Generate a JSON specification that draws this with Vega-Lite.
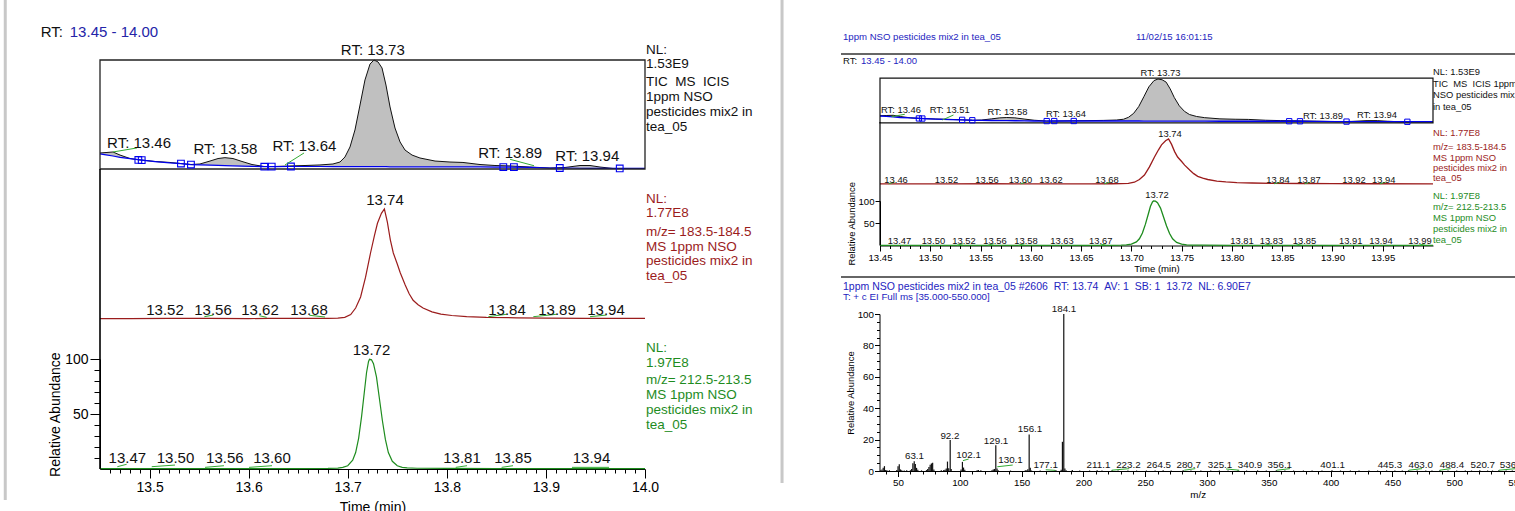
{
"$schema":"https://vega.github.io/schema/vega-lite/v6.json",
"width":1515,"height":511,"autosize":{"type":"none"},"padding":0,"background":"#ffffff",
"config":{"view":{"stroke":null},"font":"Liberation Sans","axis":{"grid":false,"labelFont":"Liberation Sans","titleFont":"Liberation Sans","labelColor":"#000000","titleColor":"#000000","tickColor":"#000000","domainColor":"#000000","titleFontWeight":"normal","labelFlush":false,"labelOverlap":false,"tickWidth":1,"domainWidth":1}},
"data":{"values":[{}]},
"datasets":{
"tic":[{"t":13.45,"v":14.7,"b":13.8},{"t":13.4561,"v":15.1,"b":13.0},{"t":13.4631,"v":15.6,"b":11.9},{"t":13.4702,"v":12.8,"b":10.6},{"t":13.4803,"v":9.6,"b":9.5},{"t":13.4904,"v":8.3,"b":8.3},{"t":13.5055,"v":6.9,"b":6.8},{"t":13.5206,"v":6.0,"b":5.6},{"t":13.5317,"v":5.0,"b":5.0},{"t":13.5418,"v":4.1,"b":4.1},{"t":13.5509,"v":4.6,"b":3.8},{"t":13.561,"v":7.3,"b":3.5},{"t":13.5691,"v":9.6,"b":3.3},{"t":13.5761,"v":10.4,"b":3.1},{"t":13.5842,"v":9.6,"b":2.9},{"t":13.5933,"v":6.9,"b":2.6},{"t":13.6034,"v":4.1,"b":2.4},{"t":13.6155,"v":2.3,"b":2.1},{"t":13.6266,"v":2.3,"b":2.2},{"t":13.6417,"v":2.8,"b":2.3},{"t":13.6569,"v":3.2,"b":2.3},{"t":13.672,"v":3.7,"b":2.3},{"t":13.6851,"v":4.6,"b":2.2},{"t":13.6922,"v":6.4,"b":2.2},{"t":13.6972,"v":11,"b":2.2},{"t":13.7023,"v":20.2,"b":2.2},{"t":13.7073,"v":35.8,"b":2.2},{"t":13.7124,"v":58.7,"b":2.1},{"t":13.7174,"v":81.7,"b":2.1},{"t":13.7225,"v":96.3,"b":2.1},{"t":13.7265,"v":100,"b":2.1},{"t":13.7306,"v":98.2,"b":2.1},{"t":13.7346,"v":92.7,"b":2.1},{"t":13.7386,"v":77,"b":2.1},{"t":13.7427,"v":56.9,"b":2.0},{"t":13.7477,"v":37.6,"b":2.0},{"t":13.7528,"v":24.8,"b":2.0},{"t":13.7578,"v":17.4,"b":2.0},{"t":13.7649,"v":12.8,"b":2.0},{"t":13.7729,"v":10.1,"b":2.0},{"t":13.7881,"v":7.3,"b":1.9},{"t":13.8032,"v":6.4,"b":1.9},{"t":13.8163,"v":6.0,"b":1.9},{"t":13.8335,"v":4.1,"b":1.9},{"t":13.8486,"v":3.2,"b":1.8},{"t":13.8638,"v":2.8,"b":1.7},{"t":13.8839,"v":1.8,"b":1.4},{"t":13.9041,"v":0.9,"b":0.9},{"t":13.9193,"v":1.4,"b":0.9},{"t":13.9344,"v":3.2,"b":0.7},{"t":13.9445,"v":3.2,"b":0.6},{"t":13.9546,"v":1.8,"b":0.5},{"t":13.9677,"v":0.5,"b":0.5},{"t":13.9849,"v":0.5,"b":0.5},{"t":14.0,"v":0.5,"b":0.5}],
"red":[{"t":13.45,"v":0.4},{"t":13.48,"v":0.4},{"t":13.52,"v":0.5},{"t":13.56,"v":0.6},{"t":13.6,"v":0.4},{"t":13.62,"v":0.5},{"t":13.66,"v":0.5},{"t":13.68,"v":0.6},{"t":13.69,"v":0.8},{"t":13.697,"v":1.5},{"t":13.703,"v":4},{"t":13.708,"v":10},{"t":13.713,"v":20},{"t":13.718,"v":38},{"t":13.723,"v":60},{"t":13.727,"v":76},{"t":13.73,"v":87},{"t":13.734,"v":96},{"t":13.737,"v":100},{"t":13.74,"v":88},{"t":13.743,"v":72},{"t":13.746,"v":60},{"t":13.75,"v":50},{"t":13.753,"v":42},{"t":13.758,"v":31},{"t":13.762,"v":23},{"t":13.766,"v":17},{"t":13.771,"v":13},{"t":13.776,"v":10},{"t":13.785,"v":6.5},{"t":13.794,"v":4.5},{"t":13.805,"v":3.2},{"t":13.82,"v":2.2},{"t":13.84,"v":1.5},{"t":13.87,"v":1.1},{"t":13.9,"v":0.8},{"t":13.94,"v":0.6},{"t":14.0,"v":0.5}],
"green":[{"t":13.45,"v":0.3},{"t":13.5,"v":0.4},{"t":13.55,"v":0.3},{"t":13.6,"v":0.4},{"t":13.65,"v":0.3},{"t":13.68,"v":0.5},{"t":13.69,"v":0.8},{"t":13.695,"v":1.5},{"t":13.7,"v":3},{"t":13.705,"v":8},{"t":13.708,"v":15},{"t":13.711,"v":28},{"t":13.714,"v":48},{"t":13.717,"v":72},{"t":13.719,"v":88},{"t":13.721,"v":98},{"t":13.722,"v":100},{"t":13.724,"v":99.5},{"t":13.726,"v":96},{"t":13.729,"v":84},{"t":13.732,"v":64},{"t":13.735,"v":44},{"t":13.738,"v":27},{"t":13.741,"v":15},{"t":13.745,"v":7},{"t":13.75,"v":3},{"t":13.755,"v":1.5},{"t":13.76,"v":1},{"t":13.77,"v":0.7},{"t":13.8,"v":0.5},{"t":13.85,"v":0.4},{"t":13.9,"v":0.4},{"t":13.95,"v":0.3},{"t":14.0,"v":0.3}],
"sq":[{"t":13.4887,"v":8.3},{"t":13.4921,"v":8.1},{"t":13.5317,"v":5.0},{"t":13.5418,"v":4.1},{"t":13.6158,"v":2.1},{"t":13.6233,"v":2.2},{"t":13.6427,"v":2.3},{"t":13.857,"v":1.8},{"t":13.8677,"v":1.7},{"t":13.914,"v":0.9},{"t":13.9745,"v":0.5}],
"labTL":[{"t":13.4894,"v":18.9,"label":"RT: 13.46"},{"t":13.5766,"v":13.4,"label":"RT: 13.58"},{"t":13.6563,"v":16.1,"label":"RT: 13.64"},{"t":13.7253,"v":104.2,"label":"RT: 13.73"},{"t":13.864,"v":9.7,"label":"RT: 13.89"},{"t":13.9418,"v":7.0,"label":"RT: 13.94"}],
"labRL":[{"t":13.5156,"v":3.6,"label":"13.52"},{"t":13.564,"v":3.6,"label":"13.56"},{"t":13.6115,"v":3.6,"label":"13.62"},{"t":13.6609,"v":3.6,"label":"13.68"},{"t":13.8607,"v":3.6,"label":"13.84"},{"t":13.9112,"v":3.6,"label":"13.89"},{"t":13.9606,"v":3.6,"label":"13.94"},{"t":13.7376,"v":103.3,"label":"13.74"}],
"labGL":[{"t":13.4776,"v":5.2,"label":"13.47"},{"t":13.5262,"v":5.2,"label":"13.50"},{"t":13.576,"v":5.2,"label":"13.56"},{"t":13.6236,"v":5.2,"label":"13.60"},{"t":13.8153,"v":5.2,"label":"13.81"},{"t":13.8668,"v":5.2,"label":"13.85"},{"t":13.946,"v":5.2,"label":"13.94"},{"t":13.724,"v":103.6,"label":"13.72"}],
"ldTL":[{"t":13.4631,"v":15.6,"t2":13.4873,"v2":19.3},{"t":13.6367,"v":3.7,"t2":13.6559,"v2":14.7},{"t":13.8638,"v":8.9,"t2":13.888,"v2":3.0}],
"ldRL":[{"t":13.5553,"v":2.1,"t2":13.5644,"v2":3.6},{"t":13.6108,"v":3.0,"t2":13.6182,"v2":1.5},{"t":13.6612,"v":3.4,"t2":13.6771,"v2":1.8},{"t":13.8419,"v":2.1,"t2":13.8604,"v2":4.3},{"t":13.8873,"v":2.1,"t2":13.9109,"v2":4.3},{"t":13.9445,"v":2.1,"t2":13.9613,"v2":3.6}],
"ldGL":[{"t":13.4675,"v":2.1,"t2":13.4769,"v2":4.3},{"t":13.5022,"v":2.1,"t2":13.5257,"v2":3.6},{"t":13.556,"v":1.5,"t2":13.5751,"v2":3},{"t":13.6004,"v":1.5,"t2":13.6236,"v2":3},{"t":13.809,"v":1.5,"t2":13.8204,"v2":3},{"t":13.8553,"v":1.5,"t2":13.8668,"v2":3},{"t":13.9263,"v":1.5,"t2":13.9637,"v2":1.5}],
"labTR":[{"t":13.4708,"v":20,"label":"RT: 13.46"},{"t":13.5193,"v":20,"label":"RT: 13.51"},{"t":13.5767,"v":16,"label":"RT: 13.58"},{"t":13.635,"v":12,"label":"RT: 13.64"},{"t":13.729,"v":106.7,"label":"RT: 13.73"},{"t":13.8906,"v":8,"label":"RT: 13.89"},{"t":13.9443,"v":9.5,"label":"RT: 13.94"}],
"ldTR":[{"t":13.4615,"v":12.3,"t2":13.4747,"v2":18},{"t":13.5121,"v":4.7,"t2":13.5231,"v2":16.3}],
"labRR":[{"t":13.466,"v":2.9,"label":"13.46"},{"t":13.5162,"v":2.9,"label":"13.52"},{"t":13.5564,"v":2.9,"label":"13.56"},{"t":13.5898,"v":2.9,"label":"13.60"},{"t":13.6201,"v":2.9,"label":"13.62"},{"t":13.6758,"v":2.9,"label":"13.68"},{"t":13.8458,"v":2.9,"label":"13.84"},{"t":13.8766,"v":2.9,"label":"13.87"},{"t":13.9214,"v":2.9,"label":"13.92"},{"t":13.951,"v":2.9,"label":"13.94"},{"t":13.7384,"v":103.6,"label":"13.74"}],
"ldRR":[{"t":13.4586,"v":0.5,"t2":13.4646,"v2":4},{"t":13.5899,"v":0.5,"t2":13.5959,"v2":4},{"t":13.673,"v":0.5,"t2":13.679,"v2":4},{"t":13.842,"v":0.5,"t2":13.848,"v2":4},{"t":13.8722,"v":0.5,"t2":13.8782,"v2":4},{"t":13.947,"v":0.5,"t2":13.953,"v2":4}],
"labGR":[{"t":13.4694,"v":3.1,"label":"13.47"},{"t":13.5031,"v":3.1,"label":"13.50"},{"t":13.5335,"v":3.1,"label":"13.52"},{"t":13.5644,"v":3.1,"label":"13.56"},{"t":13.5952,"v":3.1,"label":"13.58"},{"t":13.631,"v":3.1,"label":"13.63"},{"t":13.6695,"v":3.1,"label":"13.67"},{"t":13.81,"v":3.1,"label":"13.81"},{"t":13.8394,"v":3.1,"label":"13.83"},{"t":13.8722,"v":3.1,"label":"13.85"},{"t":13.9181,"v":3.1,"label":"13.91"},{"t":13.9483,"v":3.1,"label":"13.94"},{"t":13.987,"v":3.1,"label":"13.99"},{"t":13.7255,"v":105.8,"label":"13.72"}],
"ldGR":[{"t":13.5264,"v":0.5,"t2":13.5324,"v2":4},{"t":13.5571,"v":0.5,"t2":13.5631,"v2":4},{"t":13.5877,"v":0.5,"t2":13.5937,"v2":4},{"t":13.6687,"v":0.5,"t2":13.6747,"v2":4},{"t":13.8328,"v":0.5,"t2":13.8388,"v2":4},{"t":13.8634,"v":0.5,"t2":13.8694,"v2":4},{"t":13.986,"v":0.5,"t2":13.992,"v2":4}],
"spec":[{"m":36,"v":0.5},{"m":37,"v":0.9},{"m":38,"v":2.0},{"m":39,"v":3.1},{"m":40,"v":0.7},{"m":41,"v":0.5},{"m":43,"v":0.4},{"m":49,"v":0.6},{"m":50,"v":3.0},{"m":51,"v":4.3},{"m":52,"v":1.0},{"m":53,"v":0.5},{"m":55,"v":0.3},{"m":57,"v":0.4},{"m":60,"v":0.5},{"m":61,"v":1.2},{"m":62,"v":5.0},{"m":63.1,"v":6.2},{"m":64,"v":4.5},{"m":65,"v":2.0},{"m":66,"v":0.8},{"m":69,"v":0.4},{"m":73,"v":0.6},{"m":74,"v":1.2},{"m":75,"v":2.6},{"m":76,"v":4.0},{"m":77,"v":4.8},{"m":78,"v":5.2},{"m":79,"v":1.0},{"m":85,"v":0.4},{"m":87,"v":0.6},{"m":88,"v":0.8},{"m":89,"v":1.6},{"m":90,"v":6.0},{"m":91,"v":1.8},{"m":92.2,"v":19.8},{"m":93,"v":1.3},{"m":101,"v":1.0},{"m":102.1,"v":5.8},{"m":103,"v":2.2},{"m":104,"v":0.8},{"m":114,"v":0.4},{"m":115,"v":0.6},{"m":117,"v":0.5},{"m":126,"v":0.5},{"m":127,"v":0.9},{"m":128,"v":1.3},{"m":129.1,"v":16.4},{"m":130.1,"v":1.6},{"m":131,"v":0.4},{"m":141,"v":0.3},{"m":153,"v":0.5},{"m":154,"v":0.4},{"m":155,"v":1.1},{"m":156.1,"v":23.2},{"m":157,"v":2.0},{"m":158,"v":0.3},{"m":165,"v":0.3},{"m":177.1,"v":0.5},{"m":178,"v":0.3},{"m":182,"v":0.8},{"m":183,"v":18.6},{"m":184.1,"v":100},{"m":185,"v":1.6},{"m":186,"v":0.5},{"m":191,"v":0.6},{"m":197,"v":0.3},{"m":205,"v":0.3},{"m":211.1,"v":0.5},{"m":215,"v":0.3},{"m":223.2,"v":0.4},{"m":228,"v":0.3},{"m":236,"v":0.3},{"m":243,"v":0.3},{"m":251,"v":0.3},{"m":258,"v":0.3},{"m":264.5,"v":0.4},{"m":271,"v":0.3},{"m":280.7,"v":0.4},{"m":287,"v":0.3},{"m":295,"v":0.3},{"m":303,"v":0.3},{"m":310,"v":0.3},{"m":317,"v":0.3},{"m":325.1,"v":0.4},{"m":332,"v":0.3},{"m":340.9,"v":0.4},{"m":348,"v":0.3},{"m":356.1,"v":0.4},{"m":363,"v":0.3},{"m":370,"v":0.3},{"m":378,"v":0.3},{"m":385,"v":0.3},{"m":393,"v":0.3},{"m":401.1,"v":0.4},{"m":408,"v":0.3},{"m":416,"v":0.3},{"m":423,"v":0.3},{"m":431,"v":0.3},{"m":438,"v":0.3},{"m":445.3,"v":0.4},{"m":452,"v":0.3},{"m":458,"v":0.3},{"m":463,"v":0.4},{"m":470,"v":0.3},{"m":477,"v":0.3},{"m":482,"v":0.3},{"m":488.4,"v":0.4},{"m":495,"v":0.3},{"m":502,"v":0.3},{"m":509,"v":0.3},{"m":514,"v":0.3},{"m":520.7,"v":0.4},{"m":527,"v":0.3},{"m":531,"v":0.3},{"m":536.1,"v":0.4},{"m":542,"v":0.3},{"m":547,"v":0.3}],
"labS":[{"m":184.3,"v":101.4,"label":"184.1"},{"m":156.8,"v":25,"label":"156.1"},{"m":129.3,"v":17.5,"label":"129.1"},{"m":92.0,"v":20.7,"label":"92.2"},{"m":63.3,"v":7.5,"label":"63.1"},{"m":107.1,"v":8.4,"label":"102.1"},{"m":141.0,"v":4.8,"label":"130.1"},{"m":169.5,"v":2.0,"label":"177.1"},{"m":212.2,"v":2.0,"label":"211.1"},{"m":236.4,"v":2.0,"label":"223.2"},{"m":261.0,"v":2.0,"label":"264.5"},{"m":285.2,"v":2.0,"label":"280.7"},{"m":310.5,"v":2.0,"label":"325.1"},{"m":334.8,"v":2.0,"label":"340.9"},{"m":358.9,"v":2.0,"label":"356.1"},{"m":401.6,"v":2.0,"label":"401.1"},{"m":448.0,"v":2.0,"label":"445.3"},{"m":472.9,"v":2.0,"label":"463.0"},{"m":498.2,"v":2.0,"label":"488.4"},{"m":523.1,"v":2.0,"label":"520.7"},{"m":546.8,"v":2.0,"label":"536.1"}],
"ldS":[{"m":102.5,"v":6.6,"m2":107.1,"v2":7.6},{"m":130.3,"v":2.7,"m2":142.8,"v2":3.8},{"m":169.5,"v":0.8,"m2":177.3,"v2":0.4},{"m":222.9,"v":0.5,"m2":237.1,"v2":1.5},{"m":281.6,"v":0.5,"m2":290.5,"v2":1.5},{"m":315.4,"v":1.3,"m2":326.1,"v2":0.5},{"m":356.4,"v":0.5,"m2":367.1,"v2":1.5},{"m":463.3,"v":0.5,"m2":474,"v2":1.5},{"m":488.2,"v":0.5,"m2":497.1,"v2":1.5},{"m":536.2,"v":0.5,"m2":550,"v2":1.5}]
},
"layer":[
{"mark":{"type":"rule","color":"#c8c8c8","strokeWidth":3},"encoding":{"x":{"datum":13.3544,"scale":{"domain":[13.45,14],"range":[100,645],"nice":false,"zero":false},"axis":null},"y":{"datum":427.5,"scale":{"domain":[0,100],"range":[469,359.3],"nice":false,"zero":false},"axis":null},"y2":{"datum":-28.3}}},
{"mark":{"type":"rule","color":"#c8c8c8","strokeWidth":3},"encoding":{"x":{"datum":14.1383,"scale":{"domain":[13.45,14],"range":[100,645],"nice":false,"zero":false},"axis":null},"y":{"datum":427.5,"scale":{"domain":[0,100],"range":[469,359.3],"nice":false,"zero":false},"axis":null},"y2":{"datum":-12.8}}},

{"data":{"name":"tic"},"mark":{"type":"area","color":"#c0c0c0"},"encoding":{"x":{"field":"t","type":"quantitative","scale":{"domain":[13.45,14],"range":[100,645],"nice":false,"zero":false},"axis":null},"y":{"field":"v","type":"quantitative","scale":{"domain":[0,100],"range":[169,60],"nice":false,"zero":false},"axis":null},"y2":{"field":"b"}}},
{"data":{"name":"tic"},"mark":{"type":"line","color":"#111111","strokeWidth":1},"encoding":{"x":{"field":"t","type":"quantitative","scale":{"domain":[13.45,14],"range":[100,645],"nice":false,"zero":false},"axis":null},"y":{"field":"v","type":"quantitative","scale":{"domain":[0,100],"range":[169,60],"nice":false,"zero":false},"axis":null}}},
{"data":{"name":"tic"},"mark":{"type":"line","color":"#0000ee","strokeWidth":1.2},"encoding":{"x":{"field":"t","type":"quantitative","scale":{"domain":[13.45,14],"range":[100,645],"nice":false,"zero":false},"axis":null},"y":{"field":"b","type":"quantitative","scale":{"domain":[0,100],"range":[169,60],"nice":false,"zero":false},"axis":null}}},
{"mark":{"type":"rect","filled":false,"color":"#222222","strokeWidth":1.3},"encoding":{"x":{"datum":13.45,"scale":{"domain":[13.45,14],"range":[100,645],"nice":false,"zero":false},"axis":null},"x2":{"datum":14.0},"y":{"datum":0,"scale":{"domain":[0,100],"range":[169,60],"nice":false,"zero":false},"axis":null},"y2":{"datum":100}}},
{"data":{"name":"sq"},"mark":{"type":"point","shape":"square","filled":false,"color":"#0000ee","size":45,"strokeWidth":1.1,"opacity":1},"encoding":{"x":{"field":"t","type":"quantitative","scale":{"domain":[13.45,14],"range":[100,645],"nice":false,"zero":false},"axis":null},"y":{"field":"v","type":"quantitative","scale":{"domain":[0,100],"range":[169,60],"nice":false,"zero":false},"axis":null}}},
{"data":{"name":"ldTL"},"mark":{"type":"rule","color":"#33aa33","strokeWidth":1},"encoding":{"x":{"field":"t","type":"quantitative","scale":{"domain":[13.45,14],"range":[100,645],"nice":false,"zero":false},"axis":null},"x2":{"field":"t2"},"y":{"field":"v","type":"quantitative","scale":{"domain":[0,100],"range":[169,60],"nice":false,"zero":false},"axis":null},"y2":{"field":"v2"}}},
{"data":{"name":"labTL"},"mark":{"type":"text","fontSize":15,"baseline":"alphabetic","align":"center","color":"#111111"},"encoding":{"x":{"field":"t","type":"quantitative","scale":{"domain":[13.45,14],"range":[100,645],"nice":false,"zero":false},"axis":null},"y":{"field":"v","type":"quantitative","scale":{"domain":[0,100],"range":[169,60],"nice":false,"zero":false},"axis":null},"text":{"field":"label"}}},

{"data":{"name":"red"},"mark":{"type":"line","color":"#9b1c1c","strokeWidth":1.2},"encoding":{"x":{"field":"t","type":"quantitative","scale":{"domain":[13.45,14],"range":[100,645],"nice":false,"zero":false},"axis":null},"y":{"field":"v","type":"quantitative","scale":{"domain":[0,100],"range":[319,209],"nice":false,"zero":false},"axis":null}}},
{"data":{"name":"ldRL"},"mark":{"type":"rule","color":"#33aa33","strokeWidth":1},"encoding":{"x":{"field":"t","type":"quantitative","scale":{"domain":[13.45,14],"range":[100,645],"nice":false,"zero":false},"axis":null},"x2":{"field":"t2"},"y":{"field":"v","type":"quantitative","scale":{"domain":[0,100],"range":[319,209],"nice":false,"zero":false},"axis":null},"y2":{"field":"v2"}}},
{"data":{"name":"labRL"},"mark":{"type":"text","fontSize":15,"baseline":"alphabetic","align":"center","color":"#111111"},"encoding":{"x":{"field":"t","type":"quantitative","scale":{"domain":[13.45,14],"range":[100,645],"nice":false,"zero":false},"axis":null},"y":{"field":"v","type":"quantitative","scale":{"domain":[0,100],"range":[319,209],"nice":false,"zero":false},"axis":null},"text":{"field":"label"}}},

{"data":{"name":"green"},"mark":{"type":"line","color":"#1e8c1e","strokeWidth":1.2},"encoding":{"x":{"field":"t","type":"quantitative","scale":{"domain":[13.45,14],"range":[100,645],"nice":false,"zero":false},"axis":{"orient":"bottom","offset":-42,"values":[13.5,13.6,13.7,13.8,13.9,14.0],"format":".1f","tickSize":9,"labelFontSize":14,"labelPadding":2,"title":"Time (min)","titleFontSize":14,"titlePadding":6}},"y":{"field":"v","type":"quantitative","scale":{"domain":[0,100],"range":[469,359.3],"nice":false,"zero":false},"axis":{"orient":"left","offset":-100,"values":[50,100],"tickSize":10,"labelFontSize":14,"labelPadding":2,"title":"Relative Abundance","titleFontSize":14,"titlePadding":2}}}},
{"data":{"name":"ldGL"},"mark":{"type":"rule","color":"#33aa33","strokeWidth":1},"encoding":{"x":{"field":"t","type":"quantitative","scale":{"domain":[13.45,14],"range":[100,645],"nice":false,"zero":false},"axis":null},"x2":{"field":"t2"},"y":{"field":"v","type":"quantitative","scale":{"domain":[0,100],"range":[469,359.3],"nice":false,"zero":false},"axis":null},"y2":{"field":"v2"}}},
{"data":{"name":"labGL"},"mark":{"type":"text","fontSize":15,"baseline":"alphabetic","align":"center","color":"#111111"},"encoding":{"x":{"field":"t","type":"quantitative","scale":{"domain":[13.45,14],"range":[100,645],"nice":false,"zero":false},"axis":null},"y":{"field":"v","type":"quantitative","scale":{"domain":[0,100],"range":[469,359.3],"nice":false,"zero":false},"axis":null},"text":{"field":"label"}}},
{"mark":{"type":"rule","color":"#000000","strokeWidth":1.6},"encoding":{"x":{"datum":13.45,"scale":{"domain":[13.45,14],"range":[100,645],"nice":false,"zero":false},"axis":null},"y":{"datum":0,"scale":{"domain":[0,100],"range":[469,359.3],"nice":false,"zero":false},"axis":null},"y2":{"datum":273.5}}},
{"mark":{"type":"rule","opacity":0},"encoding":{"x":{"datum":13.45,"scale":{"domain":[13.45,14],"range":[100,645],"nice":false,"zero":false},"axis":{"orient":"bottom","offset":-42,"values":[13.46,13.47,13.48,13.49,13.51,13.52,13.53,13.54,13.55,13.56,13.57,13.58,13.59,13.61,13.62,13.63,13.64,13.65,13.66,13.67,13.68,13.69,13.71,13.72,13.73,13.74,13.75,13.76,13.77,13.78,13.79,13.81,13.82,13.83,13.84,13.85,13.86,13.87,13.88,13.89,13.91,13.92,13.93,13.94,13.95,13.96,13.97,13.98,13.99],"labels":false,"domain":false,"tickSize":4,"title":null}}}},
{"mark":{"type":"rule","opacity":0},"encoding":{"y":{"datum":0,"scale":{"domain":[0,100],"range":[469,359.3],"nice":false,"zero":false},"axis":{"orient":"left","offset":-100,"values":[10,20,30,40,60,70,80,90],"labels":false,"domain":false,"tickSize":6,"title":null}}}},
{"mark":{"type":"text","fontSize":15,"baseline":"alphabetic","align":"left","color":"#111111","text":"RT:"},"encoding":{"x":{"datum":13.3902,"scale":{"domain":[13.45,14],"range":[100,645],"nice":false,"zero":false},"axis":null},"y":{"datum":121.0,"scale":{"domain":[0,100],"range":[169,60],"nice":false,"zero":false},"axis":null}}},
{"mark":{"type":"text","fontSize":15,"baseline":"alphabetic","align":"left","color":"#2424a8","text":"13.45 - 14.00"},"encoding":{"x":{"datum":13.4195,"scale":{"domain":[13.45,14],"range":[100,645],"nice":false,"zero":false},"axis":null},"y":{"datum":121.0,"scale":{"domain":[0,100],"range":[169,60],"nice":false,"zero":false},"axis":null}}},
{"mark":{"type":"text","fontSize":13.5,"baseline":"alphabetic","align":"left","color":"#111111","lineHeight":14.4,"text":["NL:","1.53E9"]},"encoding":{"x":{"datum":14.001,"scale":{"domain":[13.45,14],"range":[100,645],"nice":false,"zero":false},"axis":null},"y":{"datum":105.7,"scale":{"domain":[0,100],"range":[169,60],"nice":false,"zero":false},"axis":null}}},
{"mark":{"type":"text","fontSize":13.5,"baseline":"alphabetic","align":"left","color":"#111111","lineHeight":15.1,"text":["TIC\u00a0\u00a0MS\u00a0\u00a0ICIS","1ppm NSO","pesticides mix2 in","tea_05"]},"encoding":{"x":{"datum":14.001,"scale":{"domain":[13.45,14],"range":[100,645],"nice":false,"zero":false},"axis":null},"y":{"datum":76.6,"scale":{"domain":[0,100],"range":[169,60],"nice":false,"zero":false},"axis":null}}},
{"mark":{"type":"text","fontSize":13.5,"baseline":"alphabetic","align":"left","color":"#9b1c1c","lineHeight":14.4,"text":["NL:","1.77E8"]},"encoding":{"x":{"datum":14.001,"scale":{"domain":[13.45,14],"range":[100,645],"nice":false,"zero":false},"axis":null},"y":{"datum":105.4,"scale":{"domain":[0,100],"range":[319,209],"nice":false,"zero":false},"axis":null}}},
{"mark":{"type":"text","fontSize":13.5,"baseline":"alphabetic","align":"left","color":"#9b1c1c","lineHeight":14.7,"text":["m/z= 183.5-184.5","MS 1ppm NSO","pesticides mix2 in","tea_05"]},"encoding":{"x":{"datum":14.001,"scale":{"domain":[13.45,14],"range":[100,645],"nice":false,"zero":false},"axis":null},"y":{"datum":75.6,"scale":{"domain":[0,100],"range":[319,209],"nice":false,"zero":false},"axis":null}}},
{"mark":{"type":"text","fontSize":13.5,"baseline":"alphabetic","align":"left","color":"#1e8c1e","lineHeight":15,"text":["NL:","1.97E8"]},"encoding":{"x":{"datum":14.001,"scale":{"domain":[13.45,14],"range":[100,645],"nice":false,"zero":false},"axis":null},"y":{"datum":107.1,"scale":{"domain":[0,100],"range":[469,359.3],"nice":false,"zero":false},"axis":null}}},
{"mark":{"type":"text","fontSize":13.5,"baseline":"alphabetic","align":"left","color":"#1e8c1e","lineHeight":15,"text":["m/z= 212.5-213.5","MS 1ppm NSO","pesticides mix2 in","tea_05"]},"encoding":{"x":{"datum":14.001,"scale":{"domain":[13.45,14],"range":[100,645],"nice":false,"zero":false},"axis":null},"y":{"datum":77.4,"scale":{"domain":[0,100],"range":[469,359.3],"nice":false,"zero":false},"axis":null}}},

{"data":{"name":"tic"},"mark":{"type":"area","color":"#c0c0c0"},"encoding":{"x":{"field":"t","type":"quantitative","scale":{"domain":[13.45,14],"range":[880,1433],"nice":false,"zero":false},"axis":null},"y":{"field":"v","type":"quantitative","scale":{"domain":[0,100],"range":[122,79],"nice":false,"zero":false},"axis":null},"y2":{"field":"b"}}},
{"data":{"name":"tic"},"mark":{"type":"line","color":"#111111","strokeWidth":1},"encoding":{"x":{"field":"t","type":"quantitative","scale":{"domain":[13.45,14],"range":[880,1433],"nice":false,"zero":false},"axis":null},"y":{"field":"v","type":"quantitative","scale":{"domain":[0,100],"range":[122,79],"nice":false,"zero":false},"axis":null}}},
{"data":{"name":"tic"},"mark":{"type":"line","color":"#0000ee","strokeWidth":1.4},"encoding":{"x":{"field":"t","type":"quantitative","scale":{"domain":[13.45,14],"range":[880,1433],"nice":false,"zero":false},"axis":null},"y":{"field":"b","type":"quantitative","scale":{"domain":[0,100],"range":[122,79],"nice":false,"zero":false},"axis":null}}},
{"mark":{"type":"rect","filled":false,"color":"#111111","strokeWidth":1.2},"encoding":{"x":{"datum":13.45,"scale":{"domain":[13.45,14],"range":[880,1433],"nice":false,"zero":false},"axis":null},"x2":{"datum":14.0},"y":{"datum":-2,"scale":{"domain":[0,100],"range":[122,79],"nice":false,"zero":false},"axis":null},"y2":{"datum":102}}},
{"data":{"name":"sq"},"mark":{"type":"point","shape":"square","filled":false,"color":"#0000ee","size":28,"strokeWidth":1,"opacity":1},"encoding":{"x":{"field":"t","type":"quantitative","scale":{"domain":[13.45,14],"range":[880,1433],"nice":false,"zero":false},"axis":null},"y":{"field":"v","type":"quantitative","scale":{"domain":[0,100],"range":[122,79],"nice":false,"zero":false},"axis":null}}},
{"data":{"name":"ldTR"},"mark":{"type":"rule","color":"#33aa33","strokeWidth":1},"encoding":{"x":{"field":"t","type":"quantitative","scale":{"domain":[13.45,14],"range":[880,1433],"nice":false,"zero":false},"axis":null},"x2":{"field":"t2"},"y":{"field":"v","type":"quantitative","scale":{"domain":[0,100],"range":[122,79],"nice":false,"zero":false},"axis":null},"y2":{"field":"v2"}}},
{"data":{"name":"labTR"},"mark":{"type":"text","fontSize":9.4,"baseline":"alphabetic","align":"center","color":"#111111"},"encoding":{"x":{"field":"t","type":"quantitative","scale":{"domain":[13.45,14],"range":[880,1433],"nice":false,"zero":false},"axis":null},"y":{"field":"v","type":"quantitative","scale":{"domain":[0,100],"range":[122,79],"nice":false,"zero":false},"axis":null},"text":{"field":"label"}}},
{"data":{"name":"red"},"mark":{"type":"line","color":"#9b1c1c","strokeWidth":1.3},"encoding":{"x":{"field":"t","type":"quantitative","scale":{"domain":[13.45,14],"range":[880,1433],"nice":false,"zero":false},"axis":null},"y":{"field":"v","type":"quantitative","scale":{"domain":[0,100],"range":[184,139],"nice":false,"zero":false},"axis":null}}},
{"data":{"name":"ldRR"},"mark":{"type":"rule","color":"#33aa33","strokeWidth":1},"encoding":{"x":{"field":"t","type":"quantitative","scale":{"domain":[13.45,14],"range":[880,1433],"nice":false,"zero":false},"axis":null},"x2":{"field":"t2"},"y":{"field":"v","type":"quantitative","scale":{"domain":[0,100],"range":[184,139],"nice":false,"zero":false},"axis":null},"y2":{"field":"v2"}}},
{"data":{"name":"labRR"},"mark":{"type":"text","fontSize":9.4,"baseline":"alphabetic","align":"center","color":"#111111"},"encoding":{"x":{"field":"t","type":"quantitative","scale":{"domain":[13.45,14],"range":[880,1433],"nice":false,"zero":false},"axis":null},"y":{"field":"v","type":"quantitative","scale":{"domain":[0,100],"range":[184,139],"nice":false,"zero":false},"axis":null},"text":{"field":"label"}}},
{"data":{"name":"green"},"mark":{"type":"line","color":"#1e8c1e","strokeWidth":1.3},"encoding":{"x":{"field":"t","type":"quantitative","scale":{"domain":[13.45,14],"range":[880,1433],"nice":false,"zero":false},"axis":{"orient":"bottom","offset":-265.5,"values":[13.45,13.5,13.55,13.6,13.65,13.7,13.75,13.8,13.85,13.9,13.95],"format":".2f","tickSize":5.5,"labelFontSize":9.6,"labelPadding":1,"title":"Time (min)","titleFontSize":9.6,"titlePadding":2}},"y":{"field":"v","type":"quantitative","scale":{"domain":[0,100],"range":[245.5,201],"nice":false,"zero":false},"axis":{"orient":"left","offset":-880,"values":[50,100],"tickSize":5,"labelFontSize":9.6,"labelPadding":1,"title":"Relative Abundance","titleFontSize":9.4,"titlePadding":1}}}},
{"data":{"name":"ldGR"},"mark":{"type":"rule","color":"#33aa33","strokeWidth":1},"encoding":{"x":{"field":"t","type":"quantitative","scale":{"domain":[13.45,14],"range":[880,1433],"nice":false,"zero":false},"axis":null},"x2":{"field":"t2"},"y":{"field":"v","type":"quantitative","scale":{"domain":[0,100],"range":[245.5,201],"nice":false,"zero":false},"axis":null},"y2":{"field":"v2"}}},
{"data":{"name":"labGR"},"mark":{"type":"text","fontSize":9.4,"baseline":"alphabetic","align":"center","color":"#111111"},"encoding":{"x":{"field":"t","type":"quantitative","scale":{"domain":[13.45,14],"range":[880,1433],"nice":false,"zero":false},"axis":null},"y":{"field":"v","type":"quantitative","scale":{"domain":[0,100],"range":[245.5,201],"nice":false,"zero":false},"axis":null},"text":{"field":"label"}}},
{"mark":{"type":"rule","color":"#000000","strokeWidth":1.2},"encoding":{"x":{"datum":13.45,"scale":{"domain":[13.45,14],"range":[880,1433],"nice":false,"zero":false},"axis":null},"y":{"datum":0,"scale":{"domain":[0,100],"range":[245.5,201],"nice":false,"zero":false},"axis":null},"y2":{"datum":277.5}}},
{"mark":{"type":"rule","opacity":0},"encoding":{"x":{"datum":13.45,"scale":{"domain":[13.45,14],"range":[880,1433],"nice":false,"zero":false},"axis":{"orient":"bottom","offset":-265.5,"values":[13.46,13.47,13.48,13.49,13.51,13.52,13.53,13.54,13.56,13.57,13.58,13.59,13.61,13.62,13.63,13.64,13.66,13.67,13.68,13.69,13.71,13.72,13.73,13.74,13.76,13.77,13.78,13.79,13.81,13.82,13.83,13.84,13.86,13.87,13.88,13.89,13.91,13.92,13.93,13.94,13.96,13.97,13.98,13.99],"labels":false,"domain":false,"tickSize":3,"title":null}}}},
{"mark":{"type":"text","fontSize":9.6,"baseline":"alphabetic","align":"left","color":"#2424c0","text":"1ppm NSO pesticides mix2 in tea_05"},"encoding":{"x":{"datum":13.4132,"scale":{"domain":[13.45,14],"range":[880,1433],"nice":false,"zero":false},"axis":null},"y":{"datum":189.8,"scale":{"domain":[0,100],"range":[122,79],"nice":false,"zero":false},"axis":null}}},
{"mark":{"type":"text","fontSize":9.6,"baseline":"alphabetic","align":"left","color":"#2424c0","text":"11/02/15 16:01:15"},"encoding":{"x":{"datum":13.7046,"scale":{"domain":[13.45,14],"range":[880,1433],"nice":false,"zero":false},"axis":null},"y":{"datum":189.8,"scale":{"domain":[0,100],"range":[122,79],"nice":false,"zero":false},"axis":null}}},
{"mark":{"type":"text","fontSize":9.5,"baseline":"alphabetic","align":"left","color":"#111111","text":"RT:"},"encoding":{"x":{"datum":13.4132,"scale":{"domain":[13.45,14],"range":[880,1433],"nice":false,"zero":false},"axis":null},"y":{"datum":134,"scale":{"domain":[0,100],"range":[122,79],"nice":false,"zero":false},"axis":null}}},
{"mark":{"type":"text","fontSize":9.5,"baseline":"alphabetic","align":"left","color":"#2424c0","text":"13.45 - 14.00"},"encoding":{"x":{"datum":13.4311,"scale":{"domain":[13.45,14],"range":[880,1433],"nice":false,"zero":false},"axis":null},"y":{"datum":134,"scale":{"domain":[0,100],"range":[122,79],"nice":false,"zero":false},"axis":null}}},
{"mark":{"type":"rule","color":"#333333","strokeWidth":1.6},"encoding":{"x":{"datum":13.4112,"scale":{"domain":[13.45,14],"range":[880,1433],"nice":false,"zero":false},"axis":null},"x2":{"datum":14.09},"y":{"datum":158.1,"scale":{"domain":[0,100],"range":[122,79],"nice":false,"zero":false},"axis":null}}},
{"mark":{"type":"text","fontSize":9.4,"baseline":"alphabetic","align":"left","color":"#111111","text":"NL: 1.53E9"},"encoding":{"x":{"datum":14.0,"scale":{"domain":[13.45,14],"range":[880,1433],"nice":false,"zero":false},"axis":null},"y":{"datum":108.6,"scale":{"domain":[0,100],"range":[122,79],"nice":false,"zero":false},"axis":null}}},
{"mark":{"type":"text","fontSize":9.4,"baseline":"alphabetic","align":"left","color":"#111111","lineHeight":11.3,"text":["TIC\u00a0\u00a0MS\u00a0\u00a0ICIS 1ppm","NSO pesticides mix2","in tea_05"]},"encoding":{"x":{"datum":14.0,"scale":{"domain":[13.45,14],"range":[880,1433],"nice":false,"zero":false},"axis":null},"y":{"datum":81.6,"scale":{"domain":[0,100],"range":[122,79],"nice":false,"zero":false},"axis":null}}},
{"mark":{"type":"text","fontSize":9.4,"baseline":"alphabetic","align":"left","color":"#9b1c1c","text":"NL: 1.77E8"},"encoding":{"x":{"datum":14.0,"scale":{"domain":[13.45,14],"range":[880,1433],"nice":false,"zero":false},"axis":null},"y":{"datum":106.9,"scale":{"domain":[0,100],"range":[184,139],"nice":false,"zero":false},"axis":null}}},
{"mark":{"type":"text","fontSize":9.4,"baseline":"alphabetic","align":"left","color":"#9b1c1c","lineHeight":10.3,"text":["m/z= 183.5-184.5","MS 1ppm NSO","pesticides mix2 in","tea_05"]},"encoding":{"x":{"datum":14.0,"scale":{"domain":[13.45,14],"range":[880,1433],"nice":false,"zero":false},"axis":null},"y":{"datum":74.9,"scale":{"domain":[0,100],"range":[184,139],"nice":false,"zero":false},"axis":null}}},
{"mark":{"type":"text","fontSize":9.4,"baseline":"alphabetic","align":"left","color":"#1e8c1e","text":"NL: 1.97E8"},"encoding":{"x":{"datum":14.0,"scale":{"domain":[13.45,14],"range":[880,1433],"nice":false,"zero":false},"axis":null},"y":{"datum":105.4,"scale":{"domain":[0,100],"range":[245.5,201],"nice":false,"zero":false},"axis":null}}},
{"mark":{"type":"text","fontSize":9.4,"baseline":"alphabetic","align":"left","color":"#1e8c1e","lineHeight":10.8,"text":["m/z= 212.5-213.5","MS 1ppm NSO","pesticides mix2 in","tea_05"]},"encoding":{"x":{"datum":14.0,"scale":{"domain":[13.45,14],"range":[880,1433],"nice":false,"zero":false},"axis":null},"y":{"datum":79.1,"scale":{"domain":[0,100],"range":[245.5,201],"nice":false,"zero":false},"axis":null}}},

{"mark":{"type":"rule","color":"#333333","strokeWidth":1.6},"encoding":{"x":{"datum":3.85,"scale":{"domain":[35,550],"range":[879.5,1516],"nice":false,"zero":false},"axis":null},"x2":{"datum":560},"y":{"datum":123.6,"scale":{"domain":[0,100],"range":[471,314],"nice":false,"zero":false},"axis":null}}},
{"data":{"name":"spec"},"mark":{"type":"rule","color":"#111111","strokeWidth":1.2},"encoding":{"x":{"field":"m","type":"quantitative","scale":{"domain":[35,550],"range":[879.5,1516],"nice":false,"zero":false},"axis":{"orient":"bottom","offset":-40,"values":[50,100,150,200,250,300,350,400,450,500,550],"format":"d","tickSize":5.5,"labelFontSize":9.8,"labelPadding":1,"title":"m/z","titleFontSize":9.8,"titlePadding":2}},"y":{"field":"v","type":"quantitative","scale":{"domain":[0,100],"range":[471,314],"nice":false,"zero":false},"axis":{"orient":"left","offset":-879.5,"values":[0,20,40,60,80,100],"format":"d","tickSize":5,"labelFontSize":9.8,"labelPadding":1,"title":"Relative Abundance","titleFontSize":9.4,"titlePadding":2}},"y2":{"datum":0}}},
{"data":{"name":"ldS"},"mark":{"type":"rule","color":"#33aa33","strokeWidth":1},"encoding":{"x":{"field":"m","type":"quantitative","scale":{"domain":[35,550],"range":[879.5,1516],"nice":false,"zero":false},"axis":null},"x2":{"field":"m2"},"y":{"field":"v","type":"quantitative","scale":{"domain":[0,100],"range":[471,314],"nice":false,"zero":false},"axis":null},"y2":{"field":"v2"}}},
{"data":{"name":"labS"},"mark":{"type":"text","fontSize":9.8,"baseline":"alphabetic","align":"center","color":"#111111"},"encoding":{"x":{"field":"m","type":"quantitative","scale":{"domain":[35,550],"range":[879.5,1516],"nice":false,"zero":false},"axis":null},"y":{"field":"v","type":"quantitative","scale":{"domain":[0,100],"range":[471,314],"nice":false,"zero":false},"axis":null},"text":{"field":"label"}}},
{"mark":{"type":"rule","opacity":0},"encoding":{"x":{"datum":35,"scale":{"domain":[35,550],"range":[879.5,1516],"nice":false,"zero":false},"axis":{"orient":"bottom","offset":-40,"values":[40,60,70,80,90,110,120,130,140,160,170,180,190,210,220,230,240,260,270,280,290,310,320,330,340,360,370,380,390,410,420,430,440,460,470,480,490,510,520,530,540],"labels":false,"domain":false,"tickSize":3,"title":null}}}},
{"mark":{"type":"rule","opacity":0},"encoding":{"y":{"datum":0,"scale":{"domain":[0,100],"range":[471,314],"nice":false,"zero":false},"axis":{"orient":"left","offset":-879.5,"values":[5,10,15,25,30,35,45,50,55,65,70,75,85,90,95],"labels":false,"domain":false,"tickSize":3,"title":null}}}},
{"mark":{"type":"text","fontSize":10.5,"baseline":"alphabetic","align":"left","color":"#2424c0","text":"1ppm NSO pesticides mix2 in tea_05 #2606\u00a0\u00a0RT: 13.74\u00a0\u00a0AV: 1\u00a0\u00a0SB: 1\u00a0\u00a013.72\u00a0\u00a0NL: 6.90E7"},"encoding":{"x":{"datum":5.47,"scale":{"domain":[35,550],"range":[879.5,1516],"nice":false,"zero":false},"axis":null},"y":{"datum":115.6,"scale":{"domain":[0,100],"range":[471,314],"nice":false,"zero":false},"axis":null}}},
{"mark":{"type":"text","fontSize":9.8,"baseline":"alphabetic","align":"left","color":"#2424c0","text":"T: + c EI Full ms [35.000-550.000]"},"encoding":{"x":{"datum":5.47,"scale":{"domain":[35,550],"range":[879.5,1516],"nice":false,"zero":false},"axis":null},"y":{"datum":108.8,"scale":{"domain":[0,100],"range":[471,314],"nice":false,"zero":false},"axis":null}}}
],
"resolve":{"scale":{"x":"independent","y":"independent"},"axis":{"x":"independent","y":"independent"}}
}
